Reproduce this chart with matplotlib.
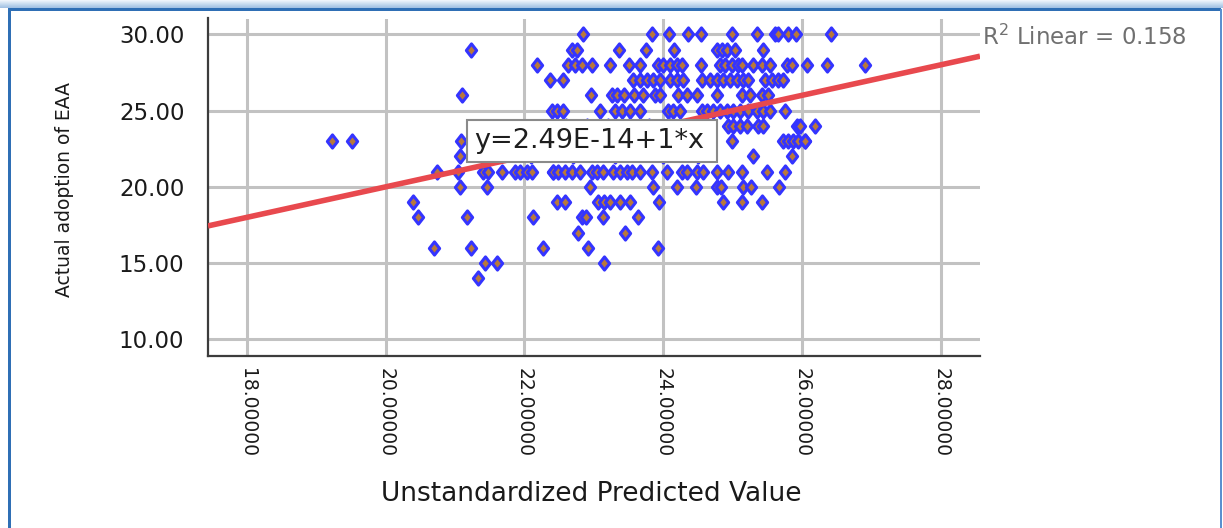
import numpy as np
import matplotlib
matplotlib.use("Agg")
import matplotlib.pyplot as plt
from matplotlib.path import Path
from matplotlib.patches import Rectangle

# Unstandardized predicted values, grouped by the observed adoption score
pred_30 = [22.84, 23.84, 24.08, 24.36, 24.54, 24.99, 25.35, 25.61, 25.65, 25.80, 25.91, 26.42]
pred_29 = [21.23, 22.68, 22.75, 23.36, 23.75, 24.15, 24.77, 24.85, 24.92, 25.03, 25.44]
pred_28 = [22.18, 22.63, 22.73, 22.83, 22.97, 23.23, 23.50, 23.66, 23.92, 24.00, 24.10,
           24.20, 24.27, 24.54, 24.82, 24.89, 24.99, 25.08, 25.13, 25.29, 25.42, 25.54,
           25.78, 25.86, 26.07, 26.36, 26.91]
pred_27 = [22.37, 22.55, 23.56, 23.66, 23.76, 23.85, 23.95, 24.10, 24.20, 24.28, 24.56,
           24.67, 24.77, 24.86, 24.96, 25.06, 25.15, 25.22, 25.47, 25.57, 25.65, 25.73]
pred_26 = [21.10, 22.96, 23.26, 23.33, 23.43, 23.58, 23.71, 23.88, 23.95, 24.21, 24.34,
           24.49, 24.77, 25.13, 25.25, 25.42, 25.51]
pred_25 = [22.39, 22.47, 22.55, 23.09, 23.30, 23.40, 23.52, 23.66, 24.07, 24.14, 24.24,
           24.56, 24.63, 24.72, 24.82, 24.92, 25.00, 25.11, 25.22, 25.35, 25.44, 25.54, 25.75]
pred_24 = [22.60, 22.90, 23.20, 23.50, 23.80, 24.10, 24.40, 24.60, 24.93, 25.00, 25.11,
           25.21, 25.37, 25.44, 25.93, 25.97, 26.19]
pred_23 = [19.22, 19.52, 21.08, 21.60, 22.00, 22.40, 22.80, 23.10, 23.50, 23.90, 24.30,
           24.99, 25.73, 25.80, 25.87, 25.94, 26.04, 26.04]
pred_22 = [21.07, 21.50, 22.10, 22.70, 23.30, 24.00, 24.50, 25.29, 25.86]
pred_21 = [20.74, 21.04, 21.40, 21.47, 21.67, 21.86, 21.93, 22.03, 22.11, 22.41, 22.41,
           22.48, 22.58, 22.68, 22.80, 22.97, 23.04, 23.13, 23.27, 23.38, 23.48, 23.55,
           23.66, 23.84, 24.05, 24.27, 24.34, 24.49, 24.57, 24.77, 24.93, 25.13, 25.49, 25.75]
pred_20 = [21.07, 21.46, 22.94, 23.85, 24.20, 24.47, 24.77, 24.83, 25.15, 25.26, 25.67]
pred_19 = [20.39, 22.47, 22.58, 23.06, 23.14, 23.23, 23.38, 23.52, 23.94, 24.86, 25.13, 25.42]
pred_18 = [20.46, 21.17, 22.12, 22.83, 22.88, 23.13, 23.63]
pred_17 = [22.77, 23.45]
pred_16 = [20.69, 21.23, 22.26, 22.91, 23.92]
pred_15 = [21.43, 21.60, 23.14]
pred_14 = [21.33]

adoption_scores = [30, 29, 28, 27, 26, 25, 24, 23, 22, 21, 20, 19, 18, 17, 16, 15, 14]
predicted_groups = [pred_30, pred_29, pred_28, pred_27, pred_26, pred_25, pred_24, pred_23,
                    pred_22, pred_21, pred_20, pred_19, pred_18, pred_17, pred_16, pred_15,
                    pred_14]

# Linear fit reported for the scatter
fit_intercept = 2.49e-14
fit_slope = 1.0
fit_r2 = 0.158

x_ticks = [18, 20, 22, 24, 26, 28]
y_ticks = [10, 15, 20, 25, 30]

x_vals = np.concatenate([np.asarray(g, float) for g in predicted_groups])
y_vals = np.concatenate([np.full(len(g), s, float) for g, s in zip(predicted_groups, adoption_scores)])

W, H = 1223, 528
fig = plt.figure(figsize=(W / 100, H / 100), dpi=100)
fig.patch.set_facecolor("white")


def fx(px):
    return px / W


def fy(py):
    return 1 - py / H


# window frame
for i, c in enumerate(["#eef4fb", "#e3edf8", "#d8e6f4", "#cddff1", "#c2d8ee", "#b7d0ea", "#adc9e7", "#a3c2e4"]):
    fig.add_artist(Rectangle((0, fy(i + 1)), 1, 1 / H, transform=fig.transFigure,
                             facecolor=c, edgecolor="none", zorder=0))
fig.add_artist(Rectangle((fx(8), fy(11)), fx(1221) - fx(8), 3.0 / H, transform=fig.transFigure,
                         facecolor="#2f6fb5", edgecolor="none", zorder=1))
fig.add_artist(Rectangle((fx(8), 0), 2.6 / W, fy(9), transform=fig.transFigure,
                         facecolor="#2f6fb5", edgecolor="none", zorder=1))
fig.add_artist(Rectangle((fx(1219.5), 0), 2.0 / W, fy(9), transform=fig.transFigure,
                         facecolor="#5a90cf", edgecolor="none", zorder=1))

ax = fig.add_axes([fx(208), fy(356), fx(980) - fx(208), (356 - 18.5) / H])
ax.set_xlim(17.437, 28.567)
ax.set_ylim(8.905, 31.04)
ax.set_facecolor("white")

ax.set_xticks(x_ticks)
ax.set_yticks(y_ticks)
ax.set_xticklabels([f"{t:.5f}" for t in x_ticks], rotation=270, fontsize=13.5,
                   family="DejaVu Sans", color="#1a1a1a")
ax.set_yticklabels([f"{t:.2f}" for t in y_ticks], fontsize=16.5,
                   family="DejaVu Sans", color="#1a1a1a")
ax.tick_params(axis="x", length=0, pad=9)
ax.tick_params(axis="y", length=0, pad=17)
for lab in ax.get_xticklabels():
    lab.set_va("top")
    lab.set_ha("center")

ax.grid(True, color="#c2c2c2", linewidth=2.2)
ax.set_axisbelow(True)
for side in ("top", "right"):
    ax.spines[side].set_visible(False)
for side in ("left", "bottom"):
    ax.spines[side].set_color("#3c3c3c")
    ax.spines[side].set_linewidth(1.6)

diamond = Path([(0, 1), (0.78, 0), (0, -1), (-0.78, 0), (0, 1)],
               [Path.MOVETO, Path.LINETO, Path.LINETO, Path.LINETO, Path.CLOSEPOLY])
ax.plot(x_vals, y_vals, linestyle="none", marker=diamond, markersize=9.5,
        markerfacecolor="#b8783c", markeredgecolor="#3434ff", markeredgewidth=2.2, zorder=3)

xs = np.array(ax.get_xlim())
ax.plot(xs, fit_intercept + fit_slope * xs, color="#e8494e", linewidth=4, zorder=4,
        solid_capstyle="butt")

# fit equation box
ax.add_patch(Rectangle((21.17, 21.63), 24.77 - 21.17, 24.38 - 21.63, facecolor="white",
                       edgecolor="#8a8a8a", linewidth=1.5, zorder=5))
ax.text(21.27, 23.0, f"y={fit_intercept:.2E}+{fit_slope:g}*x", fontsize=19.5,
        family="DejaVu Sans", color="#1e1e1e", ha="left", va="center", zorder=6)

ax.text(28.60, 29.82, f"R$^{{2}}$ Linear = {fit_r2:.3f}", fontsize=16.5, family="DejaVu Sans",
        color="#707070", ha="left", va="center", clip_on=False)

ax.set_xlabel("Unstandardized Predicted Value", fontsize=19, family="DejaVu Sans",
              color="#1a1a1a", va="center", ha="center")
ax.xaxis.set_label_coords(0.497, -0.409)
ax.set_ylabel("Actual adoption of EAA", fontsize=13.5, family="DejaVu Sans",
              color="#1a1a1a", va="center", ha="center")
ax.yaxis.set_label_coords(-0.1865, 0.492)

fig.savefig("out.png", dpi=100, facecolor="white")
